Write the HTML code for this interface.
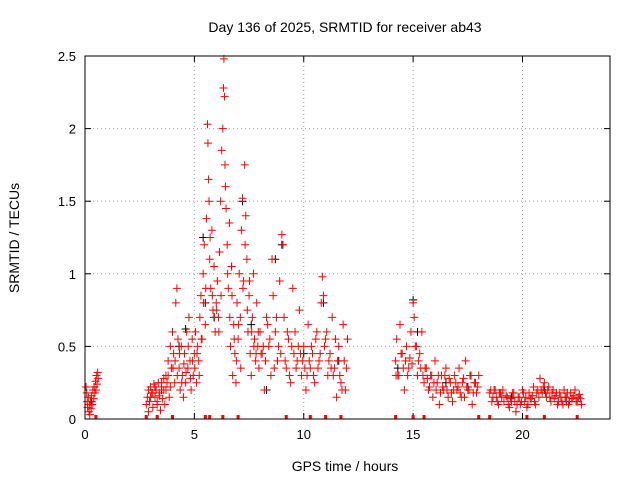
<!DOCTYPE html>
<html><head><meta charset="utf-8"><style>
body{margin:0;background:#fff}
svg{display:block;font-family:"Liberation Sans",sans-serif}
</style></head><body>
<svg id="chart" width="640" height="480">
<rect width="640" height="480" fill="#fff"/>
<text x="345" y="32" text-anchor="middle" font-size="14">Day 136 of 2025, SRMTID for receiver ab43</text>
<text x="345" y="471" text-anchor="middle" font-size="14">GPS time / hours</text>
<text transform="translate(19,238) rotate(-90)" text-anchor="middle" font-size="14">SRMTID / TECUs</text>
<g id="grid"></g>
<g id="ticks"></g>
<g id="marks"></g>
<rect x="85" y="56" width="525" height="363" fill="none" stroke="#000"/>
</svg>
<script>
const xTicks=[0,5,10,15,20];
const yTicks=[0,0.5,1,1.5,2,2.5];
const yTickLabels=["0","0.5","1","1.5","2","2.5"];
const redTimes=[0.05,0.08,0.1,0.12,0.15,0.18,0.2,0.22,0.25,0.28,0.3,0.33,0.36,0.4,0.42,0.45,0.48,0.5,0.52,0.55,0.58,0.6,
2.8,2.85,2.9,2.95,3.0,3.05,3.1,3.15,3.2,3.25,3.3,3.35,3.4,3.45,3.5,3.55,3.6,3.65,3.7,3.75,3.8,3.85,3.9,3.95,
4.0,4.05,4.1,4.15,4.2,4.25,4.3,4.35,4.4,4.45,4.5,4.55,4.6,4.65,4.7,4.75,4.8,4.85,4.9,4.95,5.0,
5.05,5.1,5.15,5.2,5.25,5.3,5.35,5.4,5.45,5.5,5.55,5.6,5.62,5.65,5.7,5.75,5.8,5.85,5.9,5.95,6.0,
6.05,6.1,6.15,6.2,6.25,6.3,6.33,6.35,6.38,6.4,6.45,6.5,6.55,6.6,6.65,6.7,6.75,6.8,6.85,6.9,6.95,7.0,
7.05,7.1,7.15,7.2,7.25,7.3,7.35,7.4,7.45,7.5,7.55,7.6,7.65,7.7,7.75,7.8,7.85,7.9,7.95,
8.0,8.1,8.2,8.3,8.4,8.5,8.55,8.6,8.7,8.8,8.9,9.0,9.05,9.1,9.2,9.3,9.4,9.5,
9.6,9.7,9.8,9.9,10.0,10.1,10.2,10.3,10.4,10.5,10.6,10.7,10.8,10.85,10.9,11.0,11.1,
11.2,11.3,11.4,11.5,11.6,11.7,11.8,11.85,11.9,12.0,
14.2,14.25,14.3,14.4,14.5,14.6,14.7,14.8,14.9,15.0,15.05,15.1,15.2,15.3,15.4,15.5,
15.6,15.7,15.8,15.9,16.0,16.1,16.2,16.3,16.4,16.5,16.6,16.7,16.8,16.9,17.0,17.1,17.2,17.3,17.4,17.5,17.6,17.7,17.8,17.9,18.0,
18.5,18.6,18.7,18.8,18.9,19.0,19.1,19.3,19.4,19.5,19.6,19.7,19.8,19.9,20.0,20.1,20.2,20.3,20.4,20.5,20.6,20.7,20.8,20.9,21.0,21.1,21.2,21.3,21.4,21.5,21.6,21.7,21.8,21.9,22.0,22.1,22.2,22.3,22.4,22.5,22.6,22.7];
const redValues=[.22,.18,.12,.08,.15,.05,.1,.03,.12,.07,.16,.1,.2,.14,.22,.18,.26,.2,.3,.24,.32,.28,
.1,.15,.05,.12,.22,.18,.08,.24,.15,.2,.1,.25,.18,.06,.22,.14,.2,.1,.3,.25,.4,.15,.5,.35,
.6,.45,.25,.8,.9,.55,.35,.2,.5,.3,.15,.45,.25,.6,.35,.7,.4,.2,.55,.3,.45,
.6,.25,.5,.4,.7,.85,.55,1.0,1.2,.65,1.38,2.03,1.9,1.65,1.1,.9,1.3,.75,1.05,.6,.8,
.95,.7,1.15,1.5,1.85,2.0,2.28,2.48,2.22,1.75,1.45,1.2,.9,1.35,.5,1.05,.3,.65,.45,.25,.8,.55,
1.0,.7,1.3,1.52,.95,1.75,1.4,1.1,.6,.85,.45,.3,.7,1.0,.55,.4,.8,.5,.35,
.6,.45,.2,.7,.5,.3,1.1,.85,.6,.4,.95,1.27,1.2,.7,.35,.55,.25,.9,
.6,.4,.75,.3,.5,.2,.65,.35,.45,.25,.6,.4,.8,.98,.85,.55,.3,
.45,.7,.35,.15,.5,.25,.65,.4,.2,.55,
.4,.55,.3,.65,.45,.2,.5,.35,.6,.8,.7,.5,.3,.45,.6,.25,
.35,.2,.3,.15,.4,.25,.1,.3,.2,.35,.15,.25,.12,.3,.2,.35,.15,.28,.4,.2,.3,.1,.25,.18,.3,
.18,.12,.2,.15,.1,.18,.2,.15,.08,.12,.18,.05,.15,.1,.2,.12,.08,.18,.14,.22,.1,.2,.28,.18,.25,.15,.22,.12,.2,.16,.1,.18,.12,.2,.15,.1,.18,.14,.2,.12,.17,.1];
const redTimes2=[2.9,3.0,3.1,3.2,3.3,3.4,3.5,3.6,3.7,3.8,3.9,4.02,4.12,4.22,4.32,4.42,4.52,4.62,4.72,4.82,4.92,
5.02,5.12,5.22,5.32,5.42,5.52,5.67,5.72,5.82,5.92,6.02,6.12,6.22,6.42,6.52,6.62,6.72,6.82,6.92,
7.02,7.12,7.22,7.32,7.42,7.52,7.62,7.72,7.82,7.92,8.05,8.15,8.25,8.35,8.45,8.65,8.75,8.85,8.95,9.15,9.25,9.35,9.45,
9.55,9.65,9.75,9.85,9.95,10.05,10.15,10.25,10.35,10.45,10.55,10.65,10.75,10.95,11.05,11.15,11.25,11.35,11.45,11.55,11.65,11.75,11.95,
14.22,14.35,14.45,14.55,14.65,14.75,14.85,14.95,15.15,15.25,15.35,15.45,15.55,15.65,15.75,15.85,15.95,16.05,16.15,16.25,16.35,16.45,16.55,16.65,16.75,16.85,16.95,17.05,17.15,17.25,17.35,17.45,17.55,17.65,17.75,17.85,17.95,
18.55,18.65,18.75,18.85,18.95,19.05,19.15,19.25,19.35,19.45,19.55,19.65,19.75,19.85,19.95,20.05,20.15,20.25,20.35,20.45,20.55,20.65,20.75,20.85,20.95,21.05,21.15,21.25,21.35,21.45,21.55,21.65,21.75,21.85,21.95,22.05,22.15,22.25,22.35,22.45,22.55,22.65];
const redValues2=[.2,.15,.18,.22,.12,.16,.25,.28,.2,.3,.22,.35,.4,.3,.45,.25,.38,.32,.5,.28,.4,
.35,.45,.3,.55,.8,.9,1.5,1.25,.85,.7,.75,.6,.85,1.6,1.0,.7,.85,.55,.4,.65,
.35,.9,1.2,.75,.95,.6,.5,.45,.6,.45,.5,.4,.65,.55,.35,.7,.5,.45,.4,.6,.3,.5,.45,
.35,.5,.45,.4,.35,.3,.4,.5,.3,.55,.35,.45,.5,.6,.4,.35,.3,.55,.4,.3,.2,.35,.3,
.3,.45,.35,.4,.3,.42,.38,.5,.4,.35,.3,.35,.28,.22,.3,.25,.2,.3,.18,.22,.3,.2,.28,.18,.2,.25,.22,.18,.25,.15,.22,.2,.3,.18,.25,.22,.2,
.15,.2,.12,.18,.15,.12,.16,.1,.14,.18,.12,.1,.15,.12,.18,.15,.1,.14,.16,.12,.18,.15,.2,.22,.18,.2,.15,.18,.14,.18,.12,.15,.1,.15,.18,.12,.14,.16,.12,.15,.14,.12];
const blackTimes=[0.3,3.5,4.3,4.6,5.4,5.5,5.9,6.7,7.2,7.6,8.3,8.7,9.0,10.0,10.9,11.6,14.3,15.0,15.2,16.5,17.5,19.5,21.0,22.0];
const blackValues=[.12,.2,.5,.62,1.25,.8,.7,1.05,1.5,.65,.2,1.1,1.2,.45,.8,.4,.35,.82,.6,.25,.22,.15,.2,.12];
const zeroTimes=[0.5,2.8,3.3,4.0,5.5,5.7,6.3,7.0,9.2,10.3,11.0,11.7,14.2,15.0,15.5,18.0,18.5,20.2,21.0,22.5];

const X0=85,X1=610,Y0=419,Y1=56;
const sx=t=>X0+(t/24)*(X1-X0);
const sy=v=>Y0-(v/2.5)*(Y0-Y1);
const NS="http://www.w3.org/2000/svg";
const grid=document.getElementById('grid'),ticks=document.getElementById('ticks'),marks=document.getElementById('marks');
function mk(tag,attrs,parent){const e=document.createElementNS(NS,tag);for(const k in attrs)e.setAttribute(k,attrs[k]);parent.appendChild(e);return e;}
xTicks.forEach(t=>{
  const x=sx(t);
  if(t>0){const g=mk('line',{x1:x,x2:x,y1:Y0,y2:Y1,stroke:'#a0a0a0','stroke-dasharray':'1,3'},grid);
  
  }
  mk('line',{x1:x,x2:x,y1:Y0,y2:Y0-6,stroke:'#000'},ticks);
  mk('line',{x1:x,x2:x,y1:Y1,y2:Y1+6,stroke:'#000'},ticks);
  const l=mk('text',{x:x,y:Y0+20,'text-anchor':'middle','font-size':'13'},ticks);
  l.textContent=t;
  
  
});
yTicks.forEach((v,i)=>{
  const y=sy(v);
  if(v>0&&v<2.5){const g=mk('line',{x1:X0,x2:X1,y1:y,y2:y,stroke:'#a0a0a0','stroke-dasharray':'1,3'},grid);
  
  }
  mk('line',{x1:X0,x2:X0+6,y1:y,y2:y,stroke:'#000'},ticks);
  mk('line',{x1:X1,x2:X1-6,y1:y,y2:y,stroke:'#000'},ticks);
  const l=mk('text',{x:X0-9,y:y+5,'text-anchor':'end','font-size':'13'},ticks);
  l.textContent=yTickLabels[i];
  
  
});
function plus(t,v,color,name){
  const x=sx(t),y=sy(v);
  const p=mk('path',{d:`M${x-4},${y}h8M${x},${y-4}v8`,stroke:color,'stroke-width':'1'},marks);
  
  
}
blackTimes.forEach((t,i)=>plus(t,blackValues[i],'#000','black-point'));
redTimes.forEach((t,i)=>plus(t,redValues[i],'#ff0000','red-point'));
redTimes2.forEach((t,i)=>plus(t,redValues2[i],'#ff0000','red-point'));
zeroTimes.forEach(t=>{
  const r=mk('rect',{x:sx(t)-1.5,y:Y0-4,width:3,height:4,fill:'#ff0000'},marks);
  
  
});
</script>
</body></html>
